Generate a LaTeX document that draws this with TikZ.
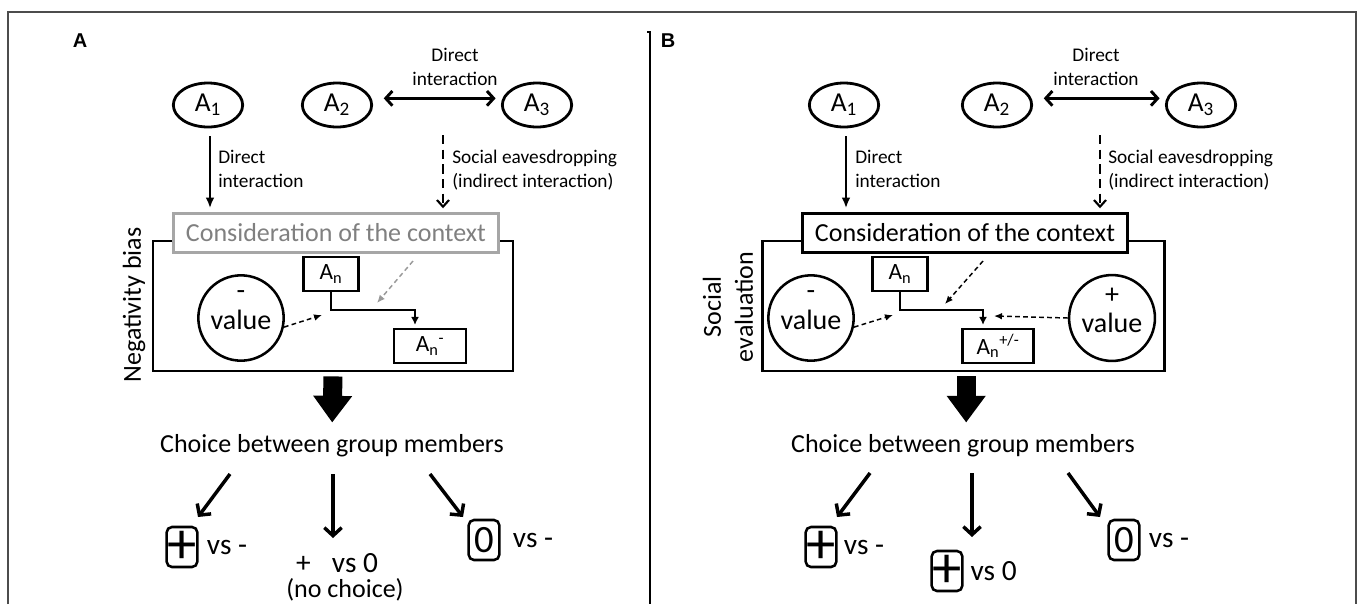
\documentclass[tikz,border=0pt]{standalone}
\usepackage{fontspec}
\setmainfont{Carlito}
\newfontfamily\panelfont{Liberation Sans}
\usetikzlibrary{positioning, arrows.meta, calc, shapes.geometric}
\newcommand{\fsz}[2]{\fontsize{#1pt}{#2pt}\selectfont}

\begin{document}
\begin{tikzpicture} [
        x=0.75pt, y=-0.75pt,
        agent/.style={ellipse, draw, line width=2.1pt, minimum width=52pt, minimum height=33pt, inner sep=0pt, font=\fsz{20.5}{22}},
        header/.style={rectangle, draw, fill=white, line width=2.1pt, minimum width=244pt, minimum height=29pt, inner sep=0pt, font=\fsz{19.5}{22}},
        panelbox/.style={rectangle, draw, line width=2.1pt, inner sep=0pt},
        valuenode/.style={circle, draw, line width=1.9pt, minimum size=64pt, inner sep=0pt, align=center, text depth=12pt, font=\fsz{21}{22}},
        agentbox/.style={rectangle, draw, line width=2.1pt, minimum height=25.5pt, inner sep=0pt, font=\fsz{17.5}{19}},
        signbox/.style={rectangle, draw, rounded corners=4pt, line width=1.9pt, minimum width=23pt, minimum height=30pt, inner sep=0pt},
        outcome/.style={inner sep=0pt, font=\fsz{22}{24}},
        note/.style={align=left, inner sep=0pt, font=\fsz{14.5}{18}},
        bigtext/.style={inner sep=0pt, align=center, font=\fsz{19.5}{24}},
        paneltag/.style={inner sep=0pt, font=\panelfont\bfseries\fsz{15}{18}},
        direct/.style={draw, line width=1.6pt, -{Latex[length=8pt, width=6.5pt]}},
        eaves/.style={draw, line width=1.6pt, dash pattern=on 7pt off 4pt, -{Straight Barb[length=5pt, width=9pt]}},
        mutual/.style={draw, line width=2.2pt, {Straight Barb[length=5pt, width=11pt]}-{Straight Barb[length=5pt, width=11pt]}},
        hint/.style={draw, line width=1.1pt, dash pattern=on 3.5pt off 2.5pt, -{Latex[length=6pt, width=5pt]}},
        elbow/.style={draw, line width=1.8pt, -{Latex[length=6pt, width=6pt]}},
        bigarrow/.style={draw, line width=14.25pt, -{Triangle[length=20pt, width=28pt]}},
        pick/.style={draw, line width=2.6pt, -{Straight Barb[length=6pt, width=13pt]}}
    ]
        \useasboundingbox (0,0) rectangle (1358,604);

        % Frame and divider
        \draw[gray!60!black, line width=1.2pt] (8,604) -- (8,12) -- (1356,12) -- (1356,604);
        \draw[line width=1.6pt] (647,32) -- (650,32) -- (650,604);
        \node[paneltag] (tagA) at (80,41) {A};
        \node[paneltag] (tagB) at (668,41) {B};

        % ---------- Panel A ----------
        % Agents
        \node[agent] (a1L) at (208,105) {A\textsubscript{1}};
        \node[agent] (a2L) at (337,105) {A\textsubscript{2}};
        \node[agent] (a3L) at (537,105) {A\textsubscript{3}};
        \node[note, align=center] (dirL) at (455,67) {Direct\\interaction};

        % Context box
        \node[panelbox, minimum width=270pt, minimum height=97.5pt] (boxL) at (333,306) {};
        \node[header, draw=gray!70, text=gray] (hdrL) at (336,233) {Consideration of the context};
        \node[bigtext, rotate=90] (biasL) at (134,305) {Negativity bias};

        \node[valuenode] (valL) at (241,318) {-\\value};
        \node[agentbox, minimum width=41pt] (anL) at (331,274) {A\textsubscript{n}};
        \node[agentbox, minimum width=54pt] (anmL) at (430,346) {A\textsubscript{n}\textsuperscript{-}};
        \coordinate (kneeL) at (415,310);
        \coordinate (inL) at (322,315);
        \coordinate (ctxL) at (413,261);
        \coordinate (ctxinL) at (377,303);

        % Choice
        \node[bigtext] (choiceL) at (332,446) {Choice between group members};
        \node[signbox, font=\fsz{44}{44}] (plusL) at (182,547) {+};
        \node[outcome, right=6pt of plusL] (vsmL) {vs -};
        \node[outcome] (noneL) at (337,563) {+\,\,\, vs 0};
        \node[outcome, font=\fsz{19.5}{20}] (nochL) at (345,590) {(no choice)};
        \node[signbox, font=\fsz{29}{29}] (zeroL) at (484,540) {0};
        \node[outcome, right=9pt of zeroL] (vszL) {vs -};

        % Paths
        \coordinate (eavL) at (443,135);
        \path[mutual, shorten <=8pt, shorten >=4pt] ([yshift=5pt]a2L.east) -- ([yshift=5pt]a3L.west);
        \path[direct, shorten <=6pt, shorten >=3pt] ([xshift=1.5pt]a1L.south) -- ([xshift=1.5pt]a1L.south |- hdrL.north);
        \node[note, anchor=west] (dlabL) at (218,169) {Direct\\interaction};
        \path[eaves, shorten >=3pt] (eavL) -- (eavL |- hdrL.north);
        \node[note, anchor=west] (slabL) at (452,170) {Social eavesdropping\\(indirect interaction)};

        \path[elbow, shorten >=2pt] (anL.south) |- (kneeL) -- (kneeL |- anmL.north);
        \path[hint] (valL.-12) -- (inL);
        \path[hint, gray!80] (ctxL) -- (ctxinL);

        \path[bigarrow, shorten <=3pt, shorten >=9pt] (boxL.south) -- (choiceL.north);
        \coordinate (p1L) at (230,474);
        \coordinate (p2L) at (333,474);
        \coordinate (p3L) at (430,474);
        \path[pick] (p1L) -- (198,517);
        \path[pick] (p2L) -- (333,538);
        \path[pick] (p3L) -- (463,517);

        % ---------- Panel B ----------
        % Agents
        \node[agent] (a1R) at (844,105) {A\textsubscript{1}};
        \node[agent] (a2R) at (997,105) {A\textsubscript{2}};
        \node[agent] (a3R) at (1201,105) {A\textsubscript{3}};
        \node[note, align=center] (dirR) at (1096,67) {Direct\\interaction};

        % Context box
        \node[panelbox, minimum width=302pt, minimum height=97.5pt] (boxR) at (963.5,306) {};
        \node[header] (hdrR) at (965,233) {Consideration of the context};
        \node[bigtext, rotate=90] (evalR) at (728,307) {Social\\evaluation};

        \node[valuenode] (valRm) at (811,318) {-\\value};
        \node[valuenode] (valRp) at (1112,318) {+\\value};
        \node[agentbox, minimum width=41pt] (anR) at (900,274) {A\textsubscript{n}};
        \node[agentbox, minimum width=53pt] (anpmR) at (998,346) {A\textsubscript{n}\textsuperscript{+/-}};
        \coordinate (kneeR) at (983,310);
        \coordinate (inRm) at (893,315);
        \coordinate (inRp) at (994,316);
        \coordinate (ctxR) at (983,261);
        \coordinate (ctxinR) at (945,304);

        % Choice
        \node[bigtext] (choiceR) at (963,446) {Choice between group members};
        \node[signbox, font=\fsz{44}{44}] (plusR) at (821,547) {+};
        \node[outcome, right=4.5pt of plusR] (vsmR) {vs -};
        \node[signbox, font=\fsz{44}{44}] (plus2R) at (947,571) {+};
        \node[outcome, right=5pt of plus2R] (vs0R) {vs 0};
        \node[signbox, font=\fsz{29}{29}] (zeroR) at (1124,540) {0};
        \node[outcome, right=6pt of zeroR] (vszR) {vs -};

        % Paths
        \coordinate (eavR) at (1100,135);
        \path[mutual, shorten <=8pt, shorten >=4pt] ([yshift=5pt]a2R.east) -- ([yshift=5pt]a3R.west);
        \path[direct, shorten <=6pt, shorten >=3pt] ([xshift=1.5pt]a1R.south) -- ([xshift=1.5pt]a1R.south |- hdrR.north);
        \node[note, anchor=west] (dlabR) at (855,169) {Direct\\interaction};
        \path[eaves, shorten >=3pt] (eavR) -- (eavR |- hdrR.north);
        \node[note, anchor=west] (slabR) at (1108,170) {Social eavesdropping\\(indirect interaction)};

        \path[elbow, shorten >=2pt] (anR.south) |- (kneeR) -- (kneeR |- anpmR.north);
        \path[hint] (valRm.-12) -- (inRm);
        \path[hint] (valRp.west) -- (inRp);
        \path[hint] (ctxR) -- (ctxinR);

        \path[bigarrow, shorten <=3pt, shorten >=9pt] ([xshift=2pt]boxR.south) -- ([xshift=2pt]boxR.south |- choiceR.north);
        \coordinate (p1R) at (870,473);
        \coordinate (p2R) at (972,473);
        \coordinate (p3R) at (1068,473);
        \path[pick] (p1R) -- (837,517);
        \path[pick] (p2R) -- (972,537);
        \path[pick] (p3R) -- (1100,517);
    \end{tikzpicture}
\end{document}
